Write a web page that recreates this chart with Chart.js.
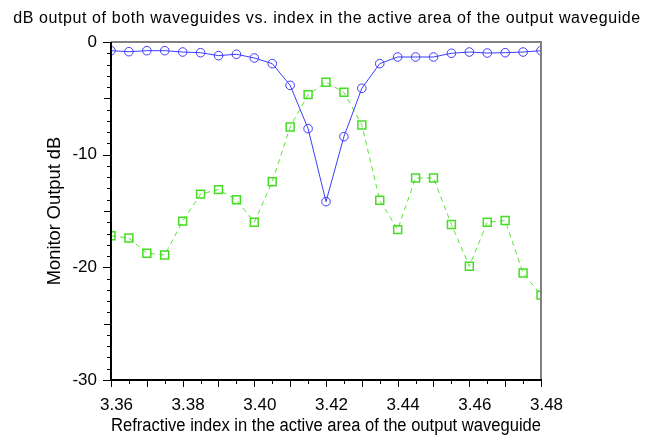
<!DOCTYPE html>
<html>
<head>
<meta charset="utf-8">
<script src="https://cdn.jsdelivr.net/npm/chart.js@4/dist/chart.umd.min.js"></script>
<style>
  html, body { margin: 0; padding: 0; background: #ffffff; }
  #wrap { width: 658px; height: 439px; position: relative; }
</style>
</head>
<body>
<div id="wrap"><canvas id="c" width="658" height="439"></canvas></div>
<script>
// Refractive index samples (x) and monitor output in dB for each waveguide
const indexValues = [3.360, 3.365, 3.370, 3.375, 3.380, 3.385, 3.390, 3.395, 3.400, 3.405,
                     3.410, 3.415, 3.420, 3.425, 3.430, 3.435, 3.440, 3.445, 3.450, 3.455,
                     3.460, 3.465, 3.470, 3.475, 3.480];
const waveguideA = [-0.77, -0.86, -0.77, -0.77, -0.89, -0.95, -1.21, -1.09, -1.42, -1.92,
                    -3.85, -7.69, -14.17, -8.40, -4.11, -1.92, -1.33, -1.33, -1.33, -1.00,
                    -0.89, -0.98, -0.95, -0.89, -0.77];
const waveguideB = [-17.2, -17.4, -18.75, -18.9, -15.9, -13.5, -13.1, -14.0, -16.0, -12.4,
                    -7.54, -4.67, -3.58, -4.46, -7.36, -14.05, -16.65, -12.07, -12.07, -16.2,
                    -19.9, -16.0, -15.85, -20.5, -22.45];
const xTickLabels = ['3.36', '3.38', '3.40', '3.42', '3.44', '3.46', '3.48'];
const yTickLabels = ['0', '-10', '-20', '-30'];

const FONT = 'Liberation Sans, Arial, sans-serif';
const toPoints = ys => indexValues.map((x, i) => ({ x: x, y: ys[i] }));

// Outward tick marks along the left and bottom axes, plus the grey frame
const axisDecor = {
  id: 'axisDecor',
  afterDraw(chart) {
    const ctx = chart.ctx;
    const xs = chart.scales.x, ys = chart.scales.y;
    const a = chart.chartArea;
    ctx.save();
    ctx.strokeStyle = '#808080';
    ctx.lineWidth = 2;
    ctx.beginPath();
    ctx.moveTo(a.left, a.top); ctx.lineTo(a.right, a.top); ctx.lineTo(a.right, a.bottom);
    ctx.stroke();
    ctx.strokeStyle = '#000000';
    ctx.lineWidth = 1;
    ctx.beginPath();
    for (let k = 0; k <= 24; k++) {
      const v = 3.36 + k * 0.005;
      const px = Math.round(xs.getPixelForValue(v)) + 0.5;
      const len = (k % 2 === 0) ? 7 : 4;
      ctx.moveTo(px, a.bottom); ctx.lineTo(px, a.bottom + len);
    }
    for (let d = 0; d <= 30; d++) {
      const py = Math.round(ys.getPixelForValue(-d)) + 0.5;
      const len = (d % 10 === 0) ? 8 : (d % 5 === 0 ? 7 : 4);
      ctx.moveTo(a.left, py); ctx.lineTo(a.left - len, py);
    }
    ctx.stroke();
    ctx.lineWidth = 2;
    ctx.beginPath();
    ctx.moveTo(a.left, a.top); ctx.lineTo(a.left, a.bottom); ctx.lineTo(a.right + 1, a.bottom);
    ctx.stroke();
    ctx.restore();
  }
};

new Chart(document.getElementById('c'), {
  type: 'line',
  data: {
    datasets: [
      {
        label: 'Waveguide 1',
        data: toPoints(waveguideA),
        borderColor: '#3c3cff',
        borderWidth: 1,
        pointStyle: 'circle',
        pointRadius: 4.3,
        pointBorderColor: '#3c3cff',
        pointBackgroundColor: 'rgba(0,0,0,0)',
        pointBorderWidth: 1,
        tension: 0
      },
      {
        label: 'Waveguide 2',
        data: toPoints(waveguideB),
        borderColor: '#55e632',
        borderWidth: 1,
        borderDash: [5, 4],
        pointStyle: 'rect',
        pointRadius: 5.6,
        pointBorderColor: '#44dd22',
        pointBackgroundColor: 'rgba(0,0,0,0)',
        pointBorderWidth: 1.5,
        tension: 0
      }
    ]
  },
  options: {
    responsive: false,
    animation: false,
    devicePixelRatio: 1,
    layout: { padding: { top: 42, right: 117, bottom: 2, left: 44 } },
    plugins: {
      legend: { display: false },
      tooltip: { enabled: false },
      title: { display: false }
    },
    scales: {
      x: {
        type: 'linear',
        min: 3.36, max: 3.48,
        afterBuildTicks: s => { s.ticks = xTickLabels.map(t => ({ value: parseFloat(t) })); },
        afterFit: s => { s.height = 439 - 2 - 380; },
        grid: { display: false, drawTicks: false },
        border: { display: false },
        ticks: {
          callback: v => v.toFixed(2),
          color: '#000', padding: 15, maxRotation: 0, labelOffset: 5.5,
          font: { family: FONT, size: 17 }
        },
        title: {
          display: true,
          text: 'Refractive index in the active area of the output waveguide',
          color: '#000', padding: { top: 2, bottom: 0 },
          font: { family: FONT, size: 18 }
        }
      },
      y: {
        type: 'linear',
        min: -30, max: 0,
        afterBuildTicks: s => { s.ticks = yTickLabels.map(t => ({ value: parseFloat(t) })); },
        afterFit: s => { s.width = 111 - 44; },
        grid: { display: false, drawTicks: false },
        border: { display: false },
        ticks: {
          callback: v => String(v),
          color: '#000', padding: 14,
          font: { family: FONT, size: 17 }
        },
        title: {
          display: true,
          text: 'Monitor Output dB',
          color: '#000', padding: { top: 0, bottom: 0 },
          font: { family: FONT, size: 18.3 }
        }
      }
    }
  },
  plugins: [axisDecor, {
    id: 'topTitle',
    afterDraw(chart) {
      const ctx = chart.ctx;
      ctx.save();
      ctx.fillStyle = '#000';
      ctx.font = '16px ' + FONT;
      ctx.letterSpacing = '0.6px';
      ctx.textAlign = 'center';
      ctx.textBaseline = 'alphabetic';
      ctx.fillText('dB output of both waveguides vs. index in the active area of the output waveguide', 327, 23);
      ctx.restore();
    }
  }]
});
</script>
</body>
</html>
